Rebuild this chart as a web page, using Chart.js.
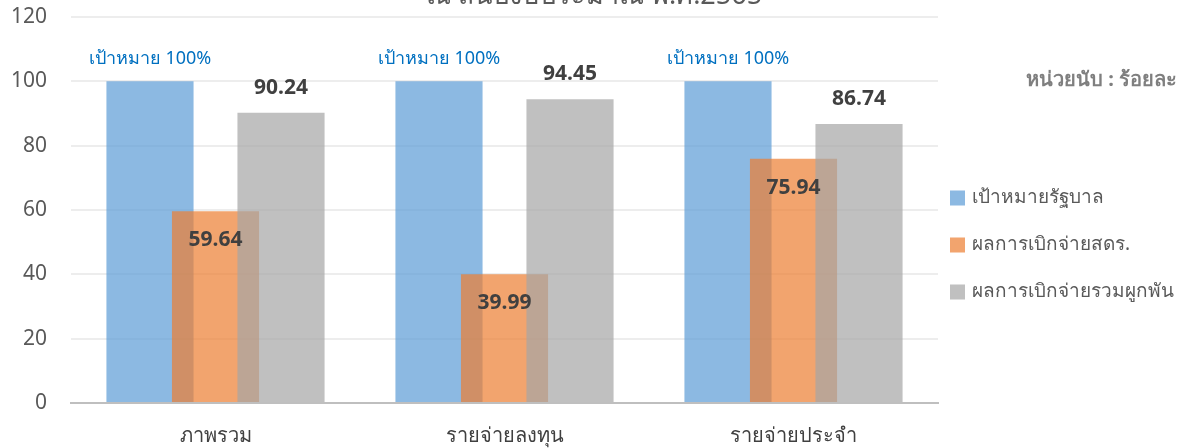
<!DOCTYPE html>
<html>
<head>
    <title>Budget Disbursement</title>
    <script src="https://cdn.jsdelivr.net/npm/chart.js@4.4.1/dist/chart.umd.min.js"></script>
    <style>
        html, body { margin: 0; padding: 0; background: #fff; }
        .chart-box { width: 1182px; height: 448px; position: relative; }
    </style>
</head>
<body>
    <div class="chart-box"><canvas id="chart"></canvas></div>

    <script>
        // chart data
        const categories = ['ภาพรวม', 'รายจ่ายลงทุน', 'รายจ่ายประจำ'];
        const seriesNames = ['เป้าหมายรัฐบาล', 'ผลการเบิกจ่ายสดร.', 'ผลการเบิกจ่ายรวมผูกพัน'];
        const targetValues = [100, 100, 100];
        const sdrValues = [59.64, 39.99, 75.94];
        const totalValues = [90.24, 94.45, 86.74];
        const yTicks = [0, 20, 40, 60, 80, 100, 120];

        const titleText = 'ณ สิ้นปีงบประมาณ พ.ศ.2565';
        const unitText = 'หน่วยนับ : ร้อยละ';
        const targetLabel = 'เป้าหมาย 100%';

        const fontFamily = '"Noto Sans", "DejaVu Sans", sans-serif';

        // draw datasets in index order so grey sits on top of orange, orange on blue
        const drawOrder = {
            id: 'drawOrder',
            beforeDatasetsDraw(chart) {
                for (let i = 0; i < chart.data.datasets.length; i++) {
                    const meta = chart.getDatasetMeta(i);
                    if (meta.visible) meta.controller.draw();
                }
                return false;
            }
        };

        // value labels, title, unit text and the legend on the right
        const extras = {
            id: 'extras',
            afterDraw(chart) {
                const ctx = chart.ctx;
                ctx.save();

                ctx.textAlign = 'center';
                ctx.textBaseline = 'middle';

                ctx.fillStyle = '#0070C0';
                ctx.font = '18px ' + fontFamily;
                chart.getDatasetMeta(0).data.forEach(bar => {
                    ctx.fillText(targetLabel, bar.x, bar.y - 22);
                });

                ctx.fillStyle = '#404040';
                ctx.font = 'bold 21px ' + fontFamily;
                chart.getDatasetMeta(1).data.forEach((bar, i) => {
                    ctx.fillText(sdrValues[i].toFixed(2), bar.x, bar.y + 29);
                });
                chart.getDatasetMeta(2).data.forEach((bar, i) => {
                    ctx.fillText(totalValues[i].toFixed(2), bar.x, bar.y - 25);
                });

                // title, cut off at the top edge like the source
                ctx.fillStyle = '#595959';
                ctx.font = '27px ' + fontFamily;
                ctx.textBaseline = 'alphabetic';
                ctx.fillText(titleText, 594, 4);

                ctx.fillStyle = '#7F7F7F';
                ctx.font = 'bold 20px ' + fontFamily;
                ctx.textAlign = 'right';
                ctx.textBaseline = 'middle';
                ctx.fillText(unitText, 1177, 80);

                // legend
                const legendX = chart.chartArea.right + 12;
                const legendY = 198;
                ctx.textAlign = 'left';
                ctx.font = '19px ' + fontFamily;
                chart.data.datasets.forEach((ds, i) => {
                    const y = legendY + i * 47;
                    ctx.fillStyle = ds.backgroundColor;
                    ctx.fillRect(legendX, y - 7.5, 15, 15);
                    ctx.fillStyle = '#595959';
                    ctx.fillText(ds.label, legendX + 22, y);
                });

                ctx.restore();
            }
        };

        new Chart(document.getElementById('chart'), {
            type: 'bar',
            data: {
                labels: categories,
                datasets: [
                    {
                        label: seriesNames[0],
                        data: targetValues,
                        backgroundColor: 'rgba(91, 155, 213, 0.7)'
                    },
                    {
                        label: seriesNames[1],
                        data: sdrValues,
                        backgroundColor: 'rgba(237, 125, 49, 0.7)'
                    },
                    {
                        label: seriesNames[2],
                        data: totalValues,
                        backgroundColor: 'rgba(165, 165, 165, 0.7)'
                    }
                ]
            },
            options: {
                responsive: true,
                maintainAspectRatio: false,
                animation: false,
                categoryPercentage: 0.68,
                barPercentage: 1.33,
                layout: {
                    padding: { top: 17, left: 0, right: 244, bottom: 0 }
                },
                plugins: {
                    tooltip: { enabled: false },
                    legend: { display: false }
                },
                scales: {
                    x: {
                        grid: { display: false, drawTicks: false },
                        border: { color: '#BFBFBF', width: 2 },
                        ticks: {
                            color: '#404040',
                            padding: 21,
                            font: { family: fontFamily, size: 20 }
                        },
                        afterFit(scale) {
                            scale.height = 45;
                        }
                    },
                    y: {
                        min: 0,
                        max: 120,
                        afterBuildTicks(axis) {
                            axis.ticks = yTicks.map(v => ({ value: v }));
                        },
                        grid: { color: '#EDEDED', lineWidth: 2, drawTicks: false },
                        border: { display: false },
                        ticks: {
                            color: '#595959',
                            padding: 24,
                            font: { family: fontFamily, size: 21 }
                        },
                        afterFit(scale) {
                            scale.width = 71;
                            scale.paddingTop = 0;
                            scale.paddingBottom = 0;
                        }
                    }
                }
            },
            plugins: [drawOrder, extras]
        });
    </script>
</body>
</html>
